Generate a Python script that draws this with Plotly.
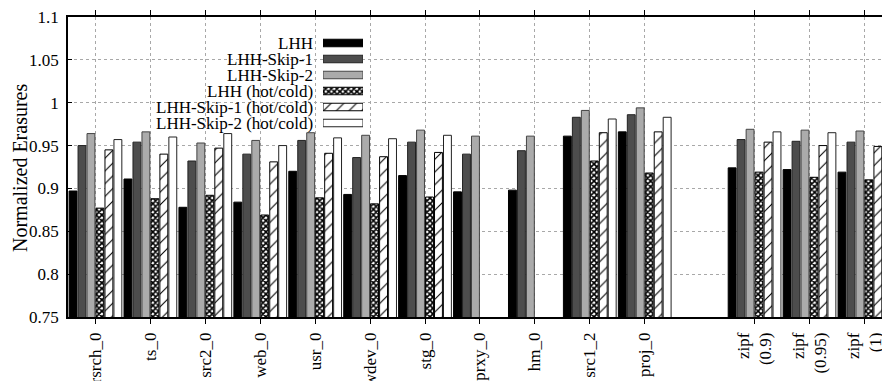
import plotly.graph_objects as go

categories = ["rsrch_0", "ts_0", "src2_0", "web_0", "usr_0", "wdev_0", "stg_0",
              "prxy_0", "hm_0", "src1_2", "proj_0",
              "zipf<br>(0.9)", "zipf<br>(0.95)", "zipf<br>(1)"]

series_names = ["LHH", "LHH-Skip-1", "LHH-Skip-2",
                "LHH (hot/cold)", "LHH-Skip-1 (hot/cold)", "LHH-Skip-2 (hot/cold)"]

lhh = [0.897, 0.911, 0.878, 0.884, 0.920, 0.893, 0.915, 0.896, 0.898, 0.961, 0.966, 0.924, 0.922, 0.919]
lhh_skip1 = [0.950, 0.954, 0.932, 0.940, 0.956, 0.936, 0.954, 0.940, 0.944, 0.983, 0.986, 0.957, 0.955, 0.954]
lhh_skip2 = [0.964, 0.966, 0.953, 0.956, 0.965, 0.962, 0.968, 0.961, 0.961, 0.991, 0.994, 0.969, 0.968, 0.967]
lhh_hc = [0.877, 0.888, 0.892, 0.869, 0.889, 0.882, 0.890, None, None, 0.932, 0.918, 0.919, 0.913, 0.910]
lhh_skip1_hc = [0.945, 0.940, 0.947, 0.931, 0.941, 0.937, 0.942, None, None, 0.965, 0.966, 0.954, 0.950, 0.949]
lhh_skip2_hc = [0.957, 0.960, 0.964, 0.950, 0.959, 0.958, 0.962, None, None, 0.981, 0.983, 0.966, 0.965, None]

y_tick_vals = [0.75, 0.8, 0.85, 0.9, 0.95, 1.0, 1.05, 1.1]
y_tick_text = ["0.75", "0.8", "0.85", "0.9", "0.95", "1", "1.05", "1.1"]
y_title = "Normalized Erasures"

# style per series
fills = ["#000000", "#4d4d4d", "#ababab", "#ffffff", "#ffffff", "#ffffff"]
patterns = ["", "", "", "x", "/", ""]
pat_size = [8, 8, 8, 4, 9, 8]
pat_sol = [0.3, 0.3, 0.3, 0.65, 0.12, 0.3]
outline = ["#000000", "#222222", "#444444", "#000000", "#000000", "#222222"]

# x slots: leave an empty slot before the zipf group
n_real = 11
xpos = [i + (1 if i >= n_real else 0) for i in range(len(categories))]

FONT = "Liberation Serif"
fig = go.Figure()

W, H = 882, 381
L, R, T, B = 68, 0, 17, 64
pw = W - L - R
ph = H - T - B


def px_x(p):
    return (p - L) / pw


def px_y(p):
    return (H - B - p) / ph


def marker_for(k):
    return dict(color=fills[k],
                line=dict(color=outline[k], width=1),
                pattern=dict(shape=patterns[k], fgcolor="#000000",
                             bgcolor=fills[k], size=pat_size[k],
                             solidity=pat_sol[k], fillmode="replace"))


all_series = [lhh, lhh_skip1, lhh_skip2, lhh_hc, lhh_skip1_hc, lhh_skip2_hc]
for k, (name, vals) in enumerate(zip(series_names, all_series)):
    fig.add_trace(go.Bar(x=xpos, y=vals, name=name, showlegend=False,
                         marker=marker_for(k)))

# custom legend (text on the left of the sample) drawn as a small hidden subplot
leg_top, leg_bot = 35, 131
row_h = (leg_bot - leg_top) / len(series_names)
for k, name in enumerate(series_names):
    fig.add_trace(go.Bar(
        x=[1], y=[name], orientation="h", xaxis="x2", yaxis="y2",
        width=0.47, offsetgroup="legend", showlegend=False, hoverinfo="skip",
        marker=marker_for(k)))
    fig.add_annotation(x=px_x(315), y=px_y(leg_top + row_h * (k + 0.5)),
                       xref="paper", yref="paper", text=name,
                       showarrow=False, xanchor="right", yanchor="middle",
                       font=dict(family=FONT, size=17, color="#000000"))

# y axis title
fig.add_annotation(x=px_x(20), y=px_y(168), xref="paper", yref="paper",
                   text=y_title, textangle=-90, showarrow=False,
                   xanchor="center", yanchor="middle",
                   font=dict(family=FONT, size=20, color="#000000"))

fig.update_layout(
    width=W, height=H,
    margin=dict(l=L, r=R, t=T, b=B, pad=0, autoexpand=False),
    plot_bgcolor="#ffffff", paper_bgcolor="#ffffff",
    barmode="group", bargap=0.02, bargroupgap=0.12,
    font=dict(family=FONT, size=17, color="#000000"),
    xaxis=dict(
        range=[-0.5, 14.32], tickvals=xpos, ticktext=categories,
        tickangle=-90, ticks="outside", ticklen=5, tickcolor="#000000",
        showline=True, linecolor="#000000", linewidth=1.5, mirror="ticks",
        showgrid=True, gridcolor="#a8a8a8", griddash="dot", gridwidth=1,
        zeroline=False, tickfont=dict(family=FONT, size=17),
        ticklabeloverflow="allow", ticklabelstandoff=2, automargin=False,
    ),
    yaxis=dict(
        range=[0.75, 1.1], tickvals=y_tick_vals, ticktext=y_tick_text,
        ticks="inside", ticklen=4, tickcolor="#000000",
        showline=True, linecolor="#000000", linewidth=1.5,
        showgrid=True, gridcolor="#a8a8a8", griddash="dot", gridwidth=1,
        zeroline=False, tickfont=dict(family=FONT, size=17),
        ticklabelstandoff=4, automargin=False,
    ),
    xaxis2=dict(domain=[px_x(323), px_x(363)], range=[0, 1], visible=False,
                anchor="y2", fixedrange=True),
    yaxis2=dict(domain=[px_y(leg_bot), px_y(leg_top)], range=[5.5, -0.5],
                visible=False, anchor="x2", type="category", fixedrange=True,
                categoryorder="array", categoryarray=series_names),
)

fig.write_html("out.html")
